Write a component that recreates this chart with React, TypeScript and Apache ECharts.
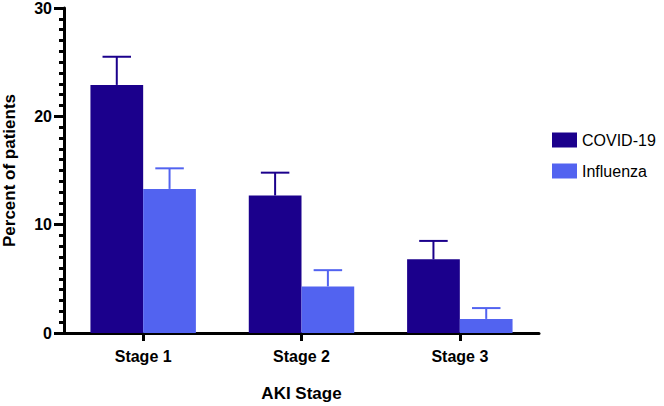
import React, { useEffect, useRef } from "react";
import * as echarts from "echarts";

const categories = ["Stage 1", "Stage 2", "Stage 3"];
const seriesNames = ["COVID-19", "Influenza"];
const covidValues = [22.9, 12.7, 6.8];
const covidUpper = [25.5, 14.8, 8.5];
const fluValues = [13.3, 4.3, 1.3];
const fluUpper = [15.2, 5.8, 2.3];
const colors = ["#1b008c", "#5263f0"];

const FONT = "Liberation Sans, Arial, sans-serif";

function errorSeries(name: string, values: number[], upper: number[], idx: number, color: string) {
  return {
    type: "custom",
    name: name + " error",
    z: 1,
    silent: true,
    data: values.map((v, i) => [i, v, upper[i]]),
    renderItem: (params: any, api: any) => {
      const cat = api.value(0);
      const base = api.coord([cat, api.value(1)]);
      const top = api.coord([cat, api.value(2)]);
      const band = api.size([1, 0])[0];
      const offset = (idx === 0 ? -1 : 1) * band / 6;
      const x = base[0] + offset;
      const capHalf = band * 0.09;
      return {
        type: "group",
        children: [
          { type: "line", shape: { x1: x, y1: base[1], x2: x, y2: top[1] }, style: { stroke: color, lineWidth: 2 } },
          { type: "line", shape: { x1: x - capHalf, y1: top[1], x2: x + capHalf, y2: top[1] }, style: { stroke: color, lineWidth: 2 } },
        ],
      };
    },
  };
}

export default function App() {
  const ref = useRef<HTMLDivElement>(null);
  useEffect(() => {
    if (!ref.current) return;
    const chart = echarts.init(ref.current, null, { renderer: "svg" });
    chart.setOption({
      animation: false,
      textStyle: { fontFamily: FONT },
      grid: { left: 64, right: 125, top: 8, bottom: 73, containLabel: false, outerBoundsMode: "none" },
      legend: {
        data: seriesNames,
        orient: "vertical",
        left: 547,
        top: 127,
        itemWidth: 25,
        itemHeight: 15,
        itemGap: 15,
        icon: "rect",
        textStyle: { fontSize: 16, color: "#000", fontFamily: FONT },
      },
      xAxis: {
        type: "category",
        data: categories,
        name: "AKI Stage",
        nameLocation: "middle",
        nameGap: 52,
        nameTextStyle: { fontSize: 17, fontWeight: "bold", color: "#000", fontFamily: FONT },
        axisLine: { lineStyle: { color: "#000", width: 3 } },
        axisTick: { show: true, alignWithLabel: true, length: 8, lineStyle: { color: "#000", width: 3 } },
        axisLabel: { fontSize: 16, fontWeight: "bold", color: "#000", margin: 15, fontFamily: FONT },
      },
      yAxis: {
        type: "value",
        min: 0,
        max: 30,
        interval: 10,
        name: "Percent of patients",
        nameLocation: "middle",
        nameGap: 46,
        nameTextStyle: { fontSize: 17, fontWeight: "bold", color: "#000", fontFamily: FONT },
        axisLine: { show: true, lineStyle: { color: "#000", width: 3 } },
        axisTick: { show: true, length: 10, lineStyle: { color: "#000", width: 3 } },
        minorTick: { show: true, splitNumber: 10, length: 5, lineStyle: { color: "#000", width: 3 } },
        splitLine: { show: false },
        axisLabel: { fontSize: 16, fontWeight: "bold", color: "#000", margin: 12, fontFamily: FONT },
      },
      series: [
        errorSeries(seriesNames[0], covidValues, covidUpper, 0, colors[0]),
        errorSeries(seriesNames[1], fluValues, fluUpper, 1, colors[1]),
        {
          type: "bar",
          name: seriesNames[0],
          data: covidValues,
          barWidth: "33.3%",
          barGap: "0%",
          z: 2,
          itemStyle: { color: colors[0] },
        },
        {
          type: "bar",
          name: seriesNames[1],
          data: fluValues,
          barWidth: "33.3%",
          barGap: "0%",
          z: 2,
          itemStyle: { color: colors[1] },
        },
      ],
    });
    return () => chart.dispose();
  }, []);
  return <div ref={ref} style={{ position: "absolute", left: 0, top: 0, width: 664, height: 406 }} />;
}
